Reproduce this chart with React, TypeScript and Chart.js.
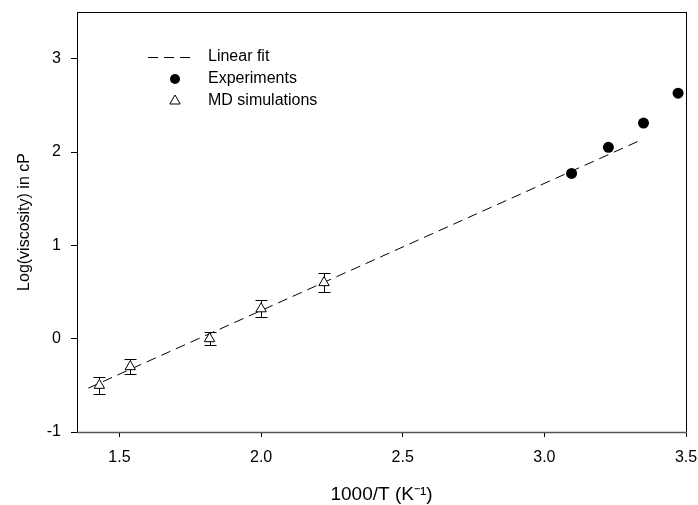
import React, { useEffect, useRef } from "react";
import { Chart, registerables } from "chart.js";

Chart.register(...registerables);

const xTicks = [1.5, 2.0, 2.5, 3.0, 3.5];
const yTicks = [-1, 0, 1, 2, 3];

const fitX = [1.39, 3.335];
const fitY = [-0.53, 2.12];

const expX = [3.096, 3.226, 3.35, 3.472];
const expY = [1.77, 2.05, 2.31, 2.63];

const mdX = [1.429, 1.538, 1.818, 2.0, 2.222];
const mdY = [-0.5, -0.3, 0.0, 0.32, 0.6];
const mdErr = [0.09, 0.08, 0.07, 0.09, 0.1];

const legendLabels = ["Linear fit", "Experiments", "MD simulations"];

const FONT = "'Liberation Sans', Arial, Helvetica, sans-serif";

export default function App() {
  const ref = useRef<HTMLCanvasElement | null>(null);

  useEffect(() => {
    if (!ref.current) return;

    const errorBars = {
      id: "errorBars",
      beforeDatasetsDraw(chart: any) {
        const { ctx, scales } = chart;
        const xs = scales.x;
        const ys = scales.y;
        ctx.save();
        ctx.strokeStyle = "#000";
        ctx.lineWidth = 1;
        mdX.forEach((xv, i) => {
          const px = Math.round(xs.getPixelForValue(xv)) + 0.5;
          const top = Math.round(ys.getPixelForValue(mdY[i] + mdErr[i])) + 0.5;
          const bot = Math.round(ys.getPixelForValue(mdY[i] - mdErr[i])) + 0.5;
          ctx.beginPath();
          ctx.moveTo(px, top);
          ctx.lineTo(px, bot);
          ctx.moveTo(px - 6, top);
          ctx.lineTo(px + 6, top);
          ctx.moveTo(px - 6, bot);
          ctx.lineTo(px + 6, bot);
          ctx.stroke();
        });
        ctx.restore();
      },
    };

    const frameAndLegend = {
      id: "frameAndLegend",
      afterDraw(chart: any) {
        const { ctx, chartArea } = chart;
        ctx.save();
        ctx.strokeStyle = "#000";
        ctx.lineWidth = 1;
        ctx.strokeRect(
          chartArea.left + 0.5,
          chartArea.top + 0.5,
          chartArea.right - chartArea.left,
          chartArea.bottom - chartArea.top
        );
        ctx.lineWidth = 1.5;
        ctx.strokeStyle = "#555";
        ctx.beginPath();
        ctx.moveTo(chartArea.left, chartArea.bottom + 0.5);
        ctx.lineTo(chartArea.right + 1, chartArea.bottom + 0.5);
        ctx.stroke();

        // legend
        const lx = 148;
        const ly = [57, 79, 101];
        const tx = 208;
        ctx.strokeStyle = "#000";
        ctx.lineWidth = 1;
        ctx.setLineDash([10, 6]);
        ctx.beginPath();
        ctx.moveTo(lx, ly[0] + 0.5);
        ctx.lineTo(lx + 44, ly[0] + 0.5);
        ctx.stroke();
        ctx.setLineDash([]);
        ctx.fillStyle = "#000";
        ctx.beginPath();
        ctx.arc(175, ly[1], 5, 0, Math.PI * 2);
        ctx.fill();
        const r = 6;
        ctx.beginPath();
        ctx.moveTo(175, ly[2] - r);
        ctx.lineTo(175 + r * 0.866, ly[2] + r / 2);
        ctx.lineTo(175 - r * 0.866, ly[2] + r / 2);
        ctx.closePath();
        ctx.fillStyle = "#fff";
        ctx.fill();
        ctx.stroke();
        ctx.fillStyle = "#000";
        ctx.font = `16px ${FONT}`;
        ctx.textBaseline = "middle";
        ctx.textAlign = "left";
        legendLabels.forEach((t, i) => ctx.fillText(t, tx, ly[i]));
        ctx.restore();
      },
    };

    const zeroPad = (s: any) => {
      s.paddingTop = 0;
      s.paddingBottom = 0;
      s.paddingLeft = 0;
      s.paddingRight = 0;
    };

    const chart = new Chart(ref.current, {
      type: "scatter",
      data: {
        datasets: [
          {
            label: legendLabels[2],
            data: mdX.map((x, i) => ({ x, y: mdY[i] })),
            pointStyle: "triangle",
            pointRadius: 6,
            pointBackgroundColor: "#fff",
            pointBorderColor: "#000",
            pointBorderWidth: 1,
            showLine: false,
          },
          {
            label: legendLabels[1],
            data: expX.map((x, i) => ({ x, y: expY[i] })),
            pointStyle: "circle",
            pointRadius: 5.5,
            pointBackgroundColor: "#000",
            pointBorderColor: "#000",
            pointBorderWidth: 0,
            showLine: false,
          },
          {
            label: legendLabels[0],
            data: fitX.map((x, i) => ({ x, y: fitY[i] })),
            showLine: true,
            pointRadius: 0,
            borderColor: "#000",
            borderWidth: 1,
            borderDash: [10, 6],
            fill: false,
          },
        ],
      },
      options: {
        animation: false,
        responsive: false,
        events: [],
        layout: { padding: { top: 12, right: 12, left: 0, bottom: 0 } },
        plugins: {
          legend: { display: false },
          tooltip: { enabled: false },
        },
        scales: {
          x: {
            type: "linear",
            min: 1.35,
            max: 3.5,
            afterFit: (s: any) => {
              s.height = 73;
              zeroPad(s);
            },
            afterBuildTicks: (s: any) => {
              s.ticks = xTicks.map((v) => ({ value: v }));
            },
            border: { display: false },
            grid: {
              drawOnChartArea: false,
              drawTicks: true,
              tickLength: 5,
              tickColor: "#000",
              color: "#000",
            },
            ticks: {
              color: "#000",
              padding: 11,
              maxRotation: 0,
              font: { family: FONT, size: 16 },
              callback: (v: any) => Number(v).toFixed(1),
            },
            title: {
              display: true,
              text: "1000/T (K⁻¹)",
              color: "#000",
              font: { family: FONT, size: 19, lineHeight: 1 },
              padding: { top: 0, bottom: 1 },
            },
          },
          y: {
            type: "linear",
            min: -1,
            max: 3.5,
            afterFit: (s: any) => {
              s.width = 77;
              zeroPad(s);
            },
            afterBuildTicks: (s: any) => {
              s.ticks = yTicks.map((v) => ({ value: v }));
            },
            border: { display: false },
            grid: {
              drawOnChartArea: false,
              drawTicks: true,
              tickLength: 6,
              tickColor: "#000",
              color: "#000",
            },
            ticks: {
              color: "#000",
              padding: 10,
              font: { family: FONT, size: 16 },
              callback: (v: any) => String(v),
            },
            title: {
              display: true,
              text: "Log(viscosity) in cP",
              color: "#000",
              font: { family: FONT, size: 16, lineHeight: 1 },
              padding: { top: 17, bottom: 0 },
            },
          },
        },
      },
      plugins: [errorBars, frameAndLegend],
    });

    return () => chart.destroy();
  }, []);

  return (
    <div style={{ position: "absolute", left: 0, top: 0, width: 698, height: 505, background: "#fff" }}>
      <canvas ref={ref} width={698} height={505} style={{ display: "block" }} />
    </div>
  );
}
